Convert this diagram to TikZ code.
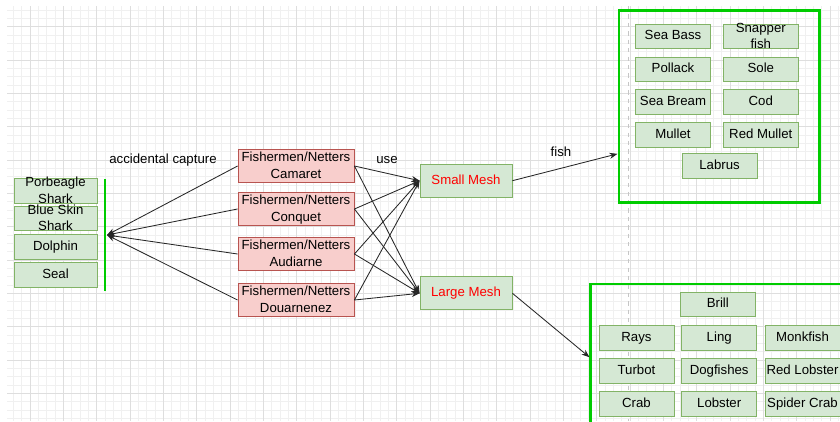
\documentclass[tikz,border=0pt]{standalone}
\usepackage{fontspec}
\setmainfont{Liberation Sans}
\usetikzlibrary{arrows.meta,positioning}
\definecolor{boxgreen}{HTML}{D5E8D4}
\definecolor{edgegreen}{HTML}{82B366}
\definecolor{boxred}{HTML}{F8CECC}
\definecolor{edgered}{HTML}{B85450}
\definecolor{groupgreen}{HTML}{00CC00}
\definecolor{meshred}{HTML}{FF0000}
\definecolor{gridmajor}{HTML}{DEDEDE}
\definecolor{gridminor}{HTML}{F0F0F0}

\begin{document}
\begin{tikzpicture}[x=0.025cm, y=-0.025cm,
  every node/.style={font=\fontsize{9.4}{11.6}\selectfont},
  basebox/.style={rectangle, draw, line width=0.6pt, align=center, inner sep=0pt, text height=6.8pt, text depth=1.9pt},
  twoline/.style={text height=17.4pt, text depth=-2.1pt},
  animalbox/.style={basebox, fill=boxgreen, draw=edgegreen, minimum width=2.075cm, minimum height=0.6125cm},
  fisherbox/.style={basebox, twoline, fill=boxred, draw=edgered, minimum width=2.9cm, minimum height=0.825cm},
  meshbox/.style={basebox, fill=boxgreen, draw=edgegreen, text=meshred, minimum width=2.3cm, minimum height=0.825cm},
  fishbox/.style={basebox, fill=boxgreen, draw=edgegreen, minimum width=1.875cm, minimum height=0.6125cm},
  groupbox/.style={rectangle, draw=groupgreen, line width=2.1pt, inner sep=0pt},
  arr/.style={-{Stealth[length=2mm,width=1.5mm]}, line width=0.6pt, black!85},
  minorline/.style={gridminor, line width=0.5pt},
  majorline/.style={gridmajor, line width=0.6pt},
  breakline/.style={gray!45, dashed, line width=0.5pt}
]
  \useasboundingbox (0,0) rectangle (840,421);
  \clip (0,0) rectangle (840,421);
  \foreach \gx in {-2,...,97} \draw[minorline] ({30+8.3333*\gx},6) -- ({30+8.3333*\gx},421);
  \foreach \gy in {-2,...,47} \draw[minorline] (7,{26.667+8.3333*\gy}) -- (840,{26.667+8.3333*\gy});
  \foreach \gx in {0,...,24} \draw[majorline] ({30+33.333*\gx},6) -- ({30+33.333*\gx},421);
  \foreach \gy in {0,...,11} \draw[majorline] (7,{26.667+33.333*\gy}) -- (840,{26.667+33.333*\gy});
  \draw[breakline] (628,6) -- (628,421);

  \node[animalbox, twoline] (porbeagle) at (55.5,191) {Porbeagle\\Shark};
  \node[animalbox, twoline] (blueskin) at (55.5,218.5) {Blue Skin\\Shark};
  \node[animalbox] (dolphin) at (55.5,247) {Dolphin};
  \node[animalbox] (seal) at (55.5,275) {Seal};
  \draw[groupgreen, line width=2.1pt] (105,179) -- (105,291);
  \coordinate (capture) at (107,235);

  \node[fisherbox] (camaret) at (296,166) {Fishermen/Netters\\Camaret};
  \node[fisherbox] (conquet) at (296,209) {Fishermen/Netters\\Conquet};
  \node[fisherbox] (audiarne) at (296,254) {Fishermen/Netters\\Audiarne};
  \node[fisherbox] (douarnenez) at (296,300) {Fishermen/Netters\\Douarnenez};

  \node[meshbox] (small) at (466,180.7) {Small Mesh};
  \node[meshbox] (large) at (466,293.3) {Large Mesh};

  \node[groupbox, minimum width=5cm, minimum height=4.775cm] (fishgroup) at (719,106.5) {};
  \node[fishbox] (seabass) at (673,36.3) {Sea Bass};
  \node[fishbox, twoline] (snapper) at (760.8,36.3) {Snapper\\fish};
  \node[fishbox] (pollack) at (673,69.5) {Pollack};
  \node[fishbox] (sole) at (760.8,69.5) {Sole};
  \node[fishbox] (seabream) at (673,102) {Sea Bream};
  \node[fishbox] (cod) at (760.8,102) {Cod};
  \node[fishbox] (mullet) at (673,134.8) {Mullet};
  \node[fishbox] (redmullet) at (760.8,134.8) {Red Mullet};
  \node[fishbox] (labrus) at (719.5,166) {Labrus};

  \node[groupbox, minimum width=6.725cm, minimum height=3.9cm] (shellgroup) at (725.5,362) {};
  \node[fishbox] (brill) at (717.8,304.5) {Brill};
  \node[fishbox] (rays) at (636.5,337.7) {Rays};
  \node[fishbox] (ling) at (719.2,337.7) {Ling};
  \node[fishbox] (monkfish) at (802.5,337.7) {Monkfish};
  \node[fishbox] (turbot) at (636.5,371) {Turbot};
  \node[fishbox] (dogfishes) at (719.2,371) {Dogfishes};
  \node[fishbox] (redlobster) at (802.5,371) {Red Lobster};
  \node[fishbox] (crab) at (636.5,404) {Crab};
  \node[fishbox] (lobster) at (719.2,404) {Lobster};
  \node[fishbox] (spidercrab) at (802.5,404) {Spider Crab};

  \draw[arr] (camaret.west) -- (capture);
  \draw[arr] (conquet.west) -- (capture);
  \draw[arr] (audiarne.west) -- (capture);
  \draw[arr] (douarnenez.west) -- (capture);

  \draw[arr] (camaret.east) -- (small.west);
  \draw[arr] (camaret.east) -- (large.west);
  \draw[arr] (conquet.east) -- (small.west);
  \draw[arr] (conquet.east) -- (large.west);
  \draw[arr] (audiarne.east) -- (small.west);
  \draw[arr] (audiarne.east) -- (large.west);
  \draw[arr] (douarnenez.east) -- (small.west);
  \draw[arr] (douarnenez.east) -- (large.west);

  \draw[arr] (small.east) -- (fishgroup.205);
  \draw[arr] (large.east) -- (shellgroup.178);

  \node (accidental) at (163,160.5) {accidental capture};
  \node (uselbl) at (387,160.5) {use};
  \node (fishlbl) at (561,152) {fish};
\end{tikzpicture}
\end{document}
